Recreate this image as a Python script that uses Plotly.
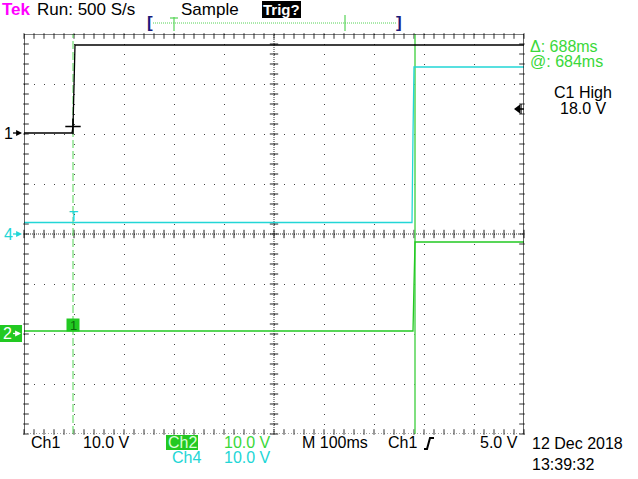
import numpy as np
import plotly.graph_objects as go

# ---------------- data ----------------
ch1_time_ms = [0, 96, 98, 102, 1000]
ch1_volts = [0.2, 0.2, 1.5, 17.8, 17.8]
ch4_time_ms = [0, 776, 778, 780, 1000]
ch4_volts = [2.3, 2.3, 20.0, 33.4, 33.4]
ch2_time_ms = [0, 778, 780, 782, 1000]
ch2_volts = [0.6, 0.6, 10.0, 18.4, 18.4]

volts_per_div = {"Ch1": 10.0, "Ch2": 10.0, "Ch4": 10.0}
offset_div = {"Ch1": 2.0, "Ch2": -2.0, "Ch4": 0.0}
cursor_ms = [98, 782]
trigger_level_v = 5.0
ms_per_div = 100
n_xdiv, n_ydiv = 10, 8

FONT = "Liberation Sans"
C_BLACK = "#000000"
C_CYAN = "#22d6d6"
C_GREEN = "#22c922"
C_TXTGREEN = "#3ad83a"
C_CURSOR = "#55d455"

# plot area in pixels
L, T, W, H = 24, 34, 500, 400
def px(x):
    return (x - L) / W
def py(y):
    return (T + H - y) / H

def todiv(volts, ch):
    return [v / volts_per_div[ch] + offset_div[ch] for v in volts]

xmax = ms_per_div * n_xdiv
ymax = n_ydiv / 2

fig = go.Figure()

# ---- graticule ticks (center axes + edges) ----
xt = np.arange(0, xmax + 1, ms_per_div / 5)
yt = np.arange(-ymax, ymax + 0.001, 0.2)
tick_style = dict(mode="markers", hoverinfo="skip", showlegend=False, cliponaxis=False)
fig.add_trace(go.Scatter(x=xt, y=np.zeros_like(xt), marker=dict(symbol="line-ns", size=6, line=dict(width=1, color="#222")), **tick_style))
fig.add_trace(go.Scatter(x=np.full_like(yt, xmax / 2), y=yt, marker=dict(symbol="line-ew", size=6, line=dict(width=1, color="#222")), **tick_style))
dx, dy = 2 * xmax / W, 2 * (2 * ymax) / H
for yy in (ymax - dy, -ymax + dy):
    fig.add_trace(go.Scatter(x=xt, y=np.full_like(xt, yy), marker=dict(symbol="line-ns", size=4, line=dict(width=1, color="#333")), **tick_style))
for xx in (dx, xmax - dx):
    fig.add_trace(go.Scatter(x=np.full_like(yt, xx), y=yt, marker=dict(symbol="line-ew", size=4, line=dict(width=1, color="#333")), **tick_style))

# ---- cursors ----
fig.add_trace(go.Scatter(x=[cursor_ms[0], cursor_ms[0]], y=[-ymax, ymax], mode="lines",
                         line=dict(color=C_CURSOR, width=1, dash="8px,3px"), hoverinfo="skip", showlegend=False))
fig.add_trace(go.Scatter(x=[cursor_ms[1], cursor_ms[1]], y=[-ymax, ymax], mode="lines",
                         line=dict(color=C_CURSOR, width=1.5), hoverinfo="skip", showlegend=False))

# ---- waveforms ----
fig.add_trace(go.Scatter(x=ch4_time_ms, y=todiv(ch4_volts, "Ch4"), mode="lines",
                         line=dict(color=C_CYAN, width=1.3), name="Ch4", showlegend=False))
fig.add_trace(go.Scatter(x=ch2_time_ms, y=todiv(ch2_volts, "Ch2"), mode="lines",
                         line=dict(color=C_GREEN, width=1.3), name="Ch2", showlegend=False))
fig.add_trace(go.Scatter(x=ch1_time_ms, y=todiv(ch1_volts, "Ch1"), mode="lines",
                         line=dict(color=C_BLACK, width=1.3), name="Ch1", showlegend=False))

# cursor / trace markers
ch1_at_c = np.interp(cursor_ms[0], ch1_time_ms, todiv(ch1_volts, "Ch1"))
ch4_at_c = np.interp(cursor_ms[0], ch4_time_ms, todiv(ch4_volts, "Ch4"))
ch2_at_c = np.interp(cursor_ms[0], ch2_time_ms, todiv(ch2_volts, "Ch2"))
fig.add_trace(go.Scatter(x=[cursor_ms[0]], y=[ch1_at_c], mode="markers",
                         marker=dict(symbol="cross-thin", size=11, line=dict(width=1.5, color=C_BLACK)),
                         hoverinfo="skip", showlegend=False, cliponaxis=False))
fig.add_trace(go.Scatter(x=[cursor_ms[0]], y=[ch2_at_c + 0.12], mode="markers",
                         marker=dict(symbol="square", size=13, color=C_GREEN),
                         hoverinfo="skip", showlegend=False, cliponaxis=False))

shapes = []
# center lines (dense dotted)
shapes.append(dict(type="line", xref="x", yref="y", x0=xmax / 2, x1=xmax / 2, y0=-ymax, y1=ymax,
                   line=dict(color="#333", width=1, dash="1px,1px"), layer="below"))
shapes.append(dict(type="line", xref="x", yref="y", x0=0, x1=xmax, y0=0, y1=0,
                   line=dict(color="#333", width=1, dash="1px,1px"), layer="below"))
# border
for (x0, y0, x1, y1) in [(0, ymax, xmax, ymax), (0, -ymax, 0, ymax), (xmax, -ymax, xmax, ymax)]:
    shapes.append(dict(type="line", xref="x", yref="y", x0=x0, y0=y0, x1=x1, y1=y1,
                       line=dict(color="#000", width=1.2)))
shapes.append(dict(type="line", xref="x", yref="y", x0=0, x1=xmax, y0=-ymax, y1=-ymax,
                   line=dict(color="#444", width=1, dash="1px,2px")))

def rect(x0, y0, x1, y1, color):
    shapes.append(dict(type="rect", xref="paper", yref="paper", x0=px(x0), x1=px(x1), y0=py(y1), y1=py(y0),
                       fillcolor=color, line=dict(width=0)))

rect(262, 1, 301, 18, "#000000")      # Trig? box
rect(166, 435, 198, 450, C_GREEN)     # Ch2 label box
rect(0, 325, 22, 342, C_GREEN)        # Ch2 ground marker box

# record bracket
shapes.append(dict(type="line", xref="paper", yref="paper", x0=px(153), x1=px(396), y0=py(23), y1=py(23),
                   line=dict(color=C_CURSOR, width=1, dash="1px,1px")))
shapes.append(dict(type="line", xref="paper", yref="paper", x0=px(345), x1=px(345), y0=py(15), y1=py(31),
                   line=dict(color=C_CURSOR, width=1.2)))
shapes.append(dict(type="line", xref="paper", yref="paper", x0=px(174), x1=px(174), y0=py(17), y1=py(31),
                   line=dict(color=C_CURSOR, width=1.2)))
shapes.append(dict(type="line", xref="paper", yref="paper", x0=px(170), x1=px(178), y0=py(18), y1=py(18),
                   line=dict(color=C_CURSOR, width=1.2)))
# trigger slope glyph
shapes.append(dict(type="path", xref="paper", yref="paper",
                   path=f"M {px(424)},{py(449)} L {px(427)},{py(449)} L {px(430)},{py(438)} L {px(434)},{py(438)}",
                   line=dict(color="#000", width=2)))
# trigger level arrow at right edge
trig_div = trigger_level_v / volts_per_div["Ch1"] + offset_div["Ch1"]
fig.add_trace(go.Scatter(x=[xmax - 12], y=[trig_div], mode="markers",
                         marker=dict(symbol="triangle-left", size=8, color="#000"),
                         hoverinfo="skip", showlegend=False, cliponaxis=False))
shapes.append(dict(type="line", xref="x", yref="y", x0=xmax - 14, x1=xmax, y0=trig_div, y1=trig_div,
                   line=dict(color="#000", width=1.5)))
shapes.append(dict(type="line", xref="x", yref="y", x0=xmax - 6, x1=xmax - 6, y0=trig_div - 0.1, y1=trig_div + 0.1,
                   line=dict(color="#000", width=1.2)))

ann = []
def txt(x, y, s, color="#000", size=16, anchor="left", bold=False):
    if bold:
        s = "<b>" + s + "</b>"
    ann.append(dict(x=px(x), y=py(y), xref="paper", yref="paper", text=s, showarrow=False,
                    xanchor=anchor, yanchor="middle", font=dict(family=FONT, size=size, color=color)))

def arrow(x_head, y, x_tail, color):
    shapes.append(dict(type="line", xref="paper", yref="paper", x0=px(x_tail), x1=px(x_head - 2),
                       y0=py(y), y1=py(y), line=dict(color=color, width=1.3)))
    ann.append(dict(x=px(x_head), y=py(y), xref="paper", yref="paper", text="", showarrow=True,
                    ax=-5, ay=0, arrowhead=2, arrowsize=0.9, arrowwidth=1.3, arrowcolor=color,
                    standoff=0, startstandoff=0))

# top status line
txt(0, 10, "Tek", "#ff00ff", 17, bold=True)
txt(35, 10, "Run: 500 S/s", size=17)
txt(179, 10, "Sample", size=17)
txt(281.5, 10, "Trig?", "#ffffff", 15, anchor="center", bold=True)
txt(150, 23, "[", "#1a1a7a", 17, anchor="center", bold=True)
txt(399, 23, "]", "#1a1a7a", 17, anchor="center", bold=True)

# ground markers
txt(8.5, 133, "1", "#000", 16, anchor="center")
arrow(22, 133, 13, "#000")
txt(8.5, 234, "4", C_CYAN, 16, anchor="center")
arrow(22, 234, 13, C_CYAN)
txt(7.5, 333.5, "2", "#ffffff", 16, anchor="center")
arrow(21, 333.5, 13, "#ffffff")

# cursor markers
ann.append(dict(x=cursor_ms[0], y=ch4_at_c, xref="x", yref="y", text="T", showarrow=False,
                yanchor="bottom", yshift=-3, font=dict(family=FONT, size=15, color=C_CYAN)))
ann.append(dict(x=cursor_ms[0], y=ch2_at_c + 0.12, xref="x", yref="y", text="1", showarrow=False,
                font=dict(family=FONT, size=13, color="#0b6a0b")))

# right readouts
txt(528, 47, "Δ: 688ms", C_TXTGREEN)
txt(528, 62, "@: 684ms", C_TXTGREEN)
txt(552, 93, "C1 High")
txt(558, 108, "18.0 V")

# bottom readouts
txt(29, 442, "Ch1")
txt(81, 442, "10.0 V")
txt(182, 442, "Ch2", "#d8ffd8", 16, anchor="center")
txt(222, 442, "10.0 V", C_TXTGREEN)
txt(170, 457, "Ch4", C_CYAN)
txt(222, 457, "10.0 V", C_CYAN)
txt(300, 442, "M 100ms")
txt(386, 442, "Ch1")
txt(478, 442, "5.0 V")
txt(530, 443, "12 Dec 2018")
txt(530, 465, "13:39:32")

fig.update_layout(
    width=638, height=479,
    margin=dict(l=L, r=638 - L - W, t=T, b=479 - T - H, pad=0),
    paper_bgcolor="#ffffff", plot_bgcolor="#ffffff",
    showlegend=False,
    shapes=shapes, annotations=ann,
    xaxis=dict(range=[0, xmax], dtick=ms_per_div, tick0=0, showgrid=True, gridcolor="#444",
               griddash="1px,9px", gridwidth=1, zeroline=False, showline=False,
               showticklabels=False, ticks="", fixedrange=True),
    yaxis=dict(range=[-ymax, ymax], dtick=1, tick0=0, showgrid=True, gridcolor="#444",
               griddash="1px,9px", gridwidth=1, zeroline=False, showline=False,
               showticklabels=False, ticks="", fixedrange=True),
)

fig.write_html("out.html", config={"displayModeBar": False},
               post_script="document.body.style.margin='0';document.body.style.overflow='hidden';")
